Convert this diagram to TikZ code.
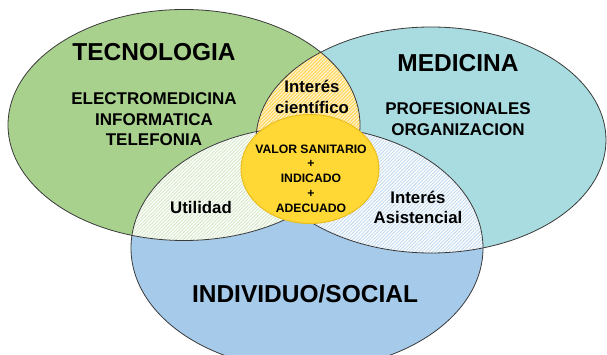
\documentclass[tikz,border=0pt]{standalone}
\usepackage{fontspec}
\setmainfont{Liberation Sans}
\usetikzlibrary{patterns.meta}
\definecolor{cgreen}{HTML}{A9D18E}
\definecolor{cteal}{HTML}{A9DCE0}
\definecolor{cblue}{HTML}{A6CAEA}
\definecolor{corange}{HTML}{FFD860}
\definecolor{cyellow}{HTML}{FFD835}
\definecolor{cyedge}{HTML}{E9BE1E}
\definecolor{cline}{HTML}{3A3A3A}
\definecolor{hgreen}{HTML}{D3E7C5}
\definecolor{hblue}{HTML}{C2DAF0}
\tikzset{
  outline/.style={draw=cline, line width=0.8pt},
  bigtxt/.style={font=\fontsize{24.5}{29}\selectfont\bfseries, inner sep=0pt},
  midtxt/.style={font=\fontsize{17}{20.5}\selectfont\bfseries, align=center, inner sep=0pt},
  lowtxt/.style={font=\fontsize{16.8}{20.5}\selectfont\bfseries, align=center, inner sep=0pt},
  smalltxt/.style={font=\fontsize{12.2}{14.7}\selectfont\bfseries, align=center, inner sep=0pt},
  hatch/.style={pattern={Lines[angle=45,distance=2.4pt,line width=0.9pt]}}
}
\begin{document}
\begin{tikzpicture}[x=1pt,y=-1pt]
\useasboundingbox (0,0) rectangle (607,355);
\coordinate (G) at (184,125);
\coordinate (T) at (431,140);
\coordinate (B) at (307,248);
\coordinate (Y) at (310,169);
\begin{scope}
\clip (0,0) rectangle (607,355);
% base fills
\fill[cgreen] (G) ellipse [x radius=176pt, y radius=115.5pt];
\fill[cteal] (T) ellipse [x radius=175pt, y radius=113pt];
\fill[cblue] (B) ellipse [x radius=176pt, y radius=121.5pt];
% green & teal
\begin{scope}
\clip (G) ellipse [x radius=176pt, y radius=115.5pt];
\fill[corange] (T) ellipse [x radius=175pt, y radius=113pt];
\fill[hatch, pattern color=white!80!corange] (T) ellipse [x radius=175pt, y radius=113pt];
\end{scope}
% green & blue
\begin{scope}
\clip (G) ellipse [x radius=176pt, y radius=115.5pt];
\fill[white] (B) ellipse [x radius=176pt, y radius=121.5pt];
\fill[hatch, pattern color=hgreen] (B) ellipse [x radius=176pt, y radius=121.5pt];
\end{scope}
% teal & blue
\begin{scope}
\clip (T) ellipse [x radius=175pt, y radius=113pt];
\fill[white] (B) ellipse [x radius=176pt, y radius=121.5pt];
\fill[hatch, pattern color=hblue] (B) ellipse [x radius=176pt, y radius=121.5pt];
\end{scope}
% outlines
\draw[outline] (G) ellipse [x radius=176pt, y radius=115.5pt];
\draw[outline] (T) ellipse [x radius=175pt, y radius=113pt];
\draw[outline] (B) ellipse [x radius=176pt, y radius=121.5pt];
\end{scope}
% central disc
\fill[cyellow, draw=cyedge, line width=1pt] (Y) ellipse [x radius=69pt, y radius=54.5pt];
% labels
\node[bigtxt] (tec) at (154,52) {TECNOLOGIA};
\node[bigtxt] (med) at (458,63) {MEDICINA};
\node[bigtxt] (ind) at (305,294) {INDIVIDUO/SOCIAL};
\node[midtxt] (tecl) at (154,119.5) {ELECTROMEDICINA\\INFORMATICA\\TELEFONIA};
\node[midtxt] (medl) at (458,119) {PROFESIONALES\\ORGANIZACION};
\node[lowtxt] (cien) at (312,97) {Interés\\científico};
\node[lowtxt] (util) at (201,207) {Utilidad};
\node[lowtxt] (asis) at (418,207.5) {Interés\\Asistencial};
\node[smalltxt] (val) at (311,178.5) {VALOR SANITARIO\\+\\INDICADO\\+\\ADECUADO};
\end{tikzpicture}
\end{document}
